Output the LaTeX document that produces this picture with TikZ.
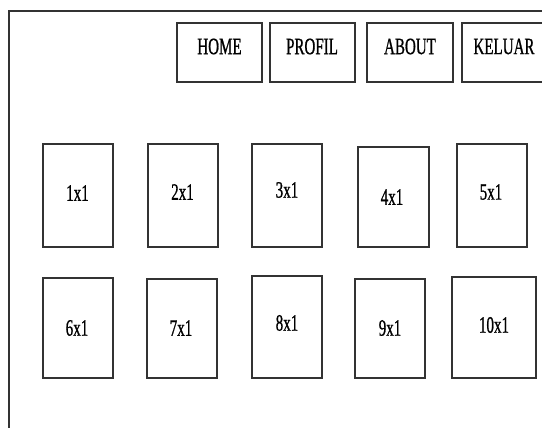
\documentclass[tikz,border=0pt]{standalone}
\usepackage{fontspec}
\setmainfont{Liberation Serif}[FakeStretch=0.64,FakeBold=0.8]
\usetikzlibrary{fit}
\begin{document}
\begin{tikzpicture}[x=1pt,y=-1pt,
  framebox/.style={draw=black!80,line width=1.6pt},
  cellbox/.style={draw=black!80,line width=1.4pt,inner sep=0pt,outer sep=0pt,rectangle},
  celltext/.style={inner sep=0pt,font=\fontsize{23.5}{26}\selectfont,text=black}]
\useasboundingbox (0,0) rectangle (542,428);
\clip (0,0) rectangle (542,428);
\fill[white] (0,0) rectangle (542,428);
\coordinate (fbl) at (9,440);
\coordinate (ftl) at (9,11);
\coordinate (ftr) at (560,11);
\draw[framebox] (fbl) -- (ftl) -- (ftr);
\newcommand\mkcell[8]{%
  \node[cellbox,fit={(#2,#3)(#4,#5)}] (#1) {};
  \node[celltext] (#1t) at (#6,#7) {#8};}
% navigation
\mkcell{home}{177}{23}{262}{82}{219.5}{46.5}{HOME}
\mkcell{profil}{270}{23}{355}{82}{312}{46.5}{PROFIL}
\mkcell{about}{367}{23}{453}{82}{410}{46.5}{ABOUT}
\mkcell{keluar}{462}{23}{547}{82}{504}{46.5}{KELUAR}
% row 1
\mkcell{c1}{43}{144}{113}{247}{77.5}{193}{1x1}
\mkcell{c2}{148}{144}{218}{247}{182.5}{192}{2x1}
\mkcell{c3}{252}{144}{322}{247}{287}{190}{3x1}
\mkcell{c4}{358}{147}{429}{247}{392}{197}{4x1}
\mkcell{c5}{457}{144}{527}{247}{491}{192}{5x1}
% row 2
\mkcell{c6}{43}{278}{113}{378}{77}{328}{6x1}
\mkcell{c7}{147}{279}{217}{378}{181}{328}{7x1}
\mkcell{c8}{252}{276}{322}{378}{287}{323}{8x1}
\mkcell{c9}{355}{279}{425}{378}{390}{328}{9x1}
\mkcell{c10}{452}{277}{536}{378}{494}{325}{10x1}
\end{tikzpicture}
\end{document}
